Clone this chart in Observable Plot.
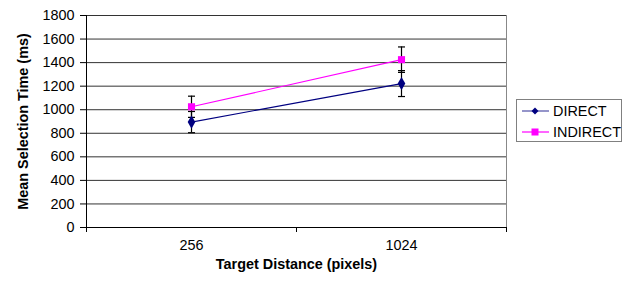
<!DOCTYPE html>
<html><head><meta charset="utf-8">
<script src="https://cdn.jsdelivr.net/npm/d3@7"></script>
<script src="https://cdn.jsdelivr.net/npm/@observablehq/plot@0.6"></script>
<style>
body{margin:0;background:#fff;font-family:"Liberation Sans",Arial,sans-serif;}
#wrap{position:relative;width:626px;height:284px;}
#legend{position:absolute;left:516px;top:99px;width:104px;height:41px;border:1px solid #808080;background:#fff;font-size:14.4px;color:#000;}
.row{position:absolute;left:0;height:16px;display:flex;align-items:center;}
.row span{margin-left:4px;}
</style></head>
<body><div id="wrap"></div>
<script>
const categories = ["256", "1024"];
const seriesNames = ["DIRECT", "INDIRECT"];
const direct = [895, 1222];
const indirect = [1025, 1425];
const directErr = [90, 110];
const indirectErr = [90, 108];
const yTicks = [0, 200, 400, 600, 800, 1000, 1200, 1400, 1600, 1800];
const colors = ["#000080", "#ff00ff"];
const symbols = ["diamond", "square"];

const data = [];
categories.forEach((c, i) => {
  data.push({series: seriesNames[0], i, x: i + 0.5, y: direct[i], e: directErr[i]});
  data.push({series: seriesNames[1], i, x: i + 0.5, y: indirect[i], e: indirectErr[i]});
});
const capSymbol = {draw(ctx, size) { const w = 3.5; ctx.moveTo(-w, 0); ctx.lineTo(w, 0); }};

const W = 626, H = 284;
const FS = 14.4;
const chart = Plot.plot({
  width: W, height: H,
  marginLeft: 86, marginRight: 120, marginTop: 15, marginBottom: 57,
  style: {fontFamily: "'Liberation Sans', Arial, sans-serif", fontSize: FS + "px", color: "#000", background: "#fff"},
  x: {type: "linear", domain: [0, categories.length]},
  y: {domain: [0, 1800]},
  color: {domain: seriesNames, range: colors},
  symbol: {domain: seriesNames, range: symbols},
  marks: [
    Plot.ruleY(yTicks, {stroke: "#333", strokeWidth: 1}),
    Plot.ruleX([categories.length], {stroke: "#888"}),
    Plot.axisY({ticks: yTicks, tickSize: 6, tickPadding: 6, tickFormat: d => String(d), label: null, fontSize: FS}),
    Plot.axisX({ticks: d3.range(categories.length + 1), tickSize: 5, tickFormat: () => "", label: null}),
    Plot.axisX({ticks: categories.map((c, i) => i + 0.5), tickSize: 0, tickPadding: 12, tickFormat: v => categories[Math.round(v - 0.5)], label: null, fontSize: FS}),
    Plot.ruleX([0], {stroke: "#000"}),
    Plot.ruleY([0], {stroke: "#000"}),
    Plot.text(["Mean Selection Time (ms)"], {frameAnchor: "left", dx: -63, rotate: -90, fontWeight: "bold", fontSize: FS, textAnchor: "middle"}),
    Plot.text(["Target Distance (pixels)"], {frameAnchor: "bottom", dy: 41, fontWeight: "bold", fontSize: FS}),
    Plot.ruleX(data, {x: "x", y1: d => d.y - d.e, y2: d => d.y + d.e, stroke: "#000", strokeWidth: 1.2}),
    Plot.dot(data, {x: "x", y: d => d.y - d.e, symbol: () => capSymbol, stroke: "#000", strokeWidth: 1.2, fill: "none"}),
    Plot.dot(data, {x: "x", y: d => d.y + d.e, symbol: () => capSymbol, stroke: "#000", strokeWidth: 1.2, fill: "none"}),
    Plot.line(data, {x: "x", y: "y", z: "series", stroke: "series", strokeWidth: 1.2}),
    Plot.dot(data, {x: "x", y: "y", symbol: "series", fill: "series", stroke: "none", r: 4})
  ]
});
const wrap = document.getElementById("wrap");
wrap.appendChild(chart);

const legend = document.createElement("div");
legend.id = "legend";
seriesNames.forEach((s, k) => {
  const row = document.createElement("div");
  row.className = "row";
  row.style.left = "5px";
  row.style.top = (3 + k * 21) + "px";
  const sym = k === 0
    ? `<path d="M13,3.5 L16.5,7 L13,10.5 L9.5,7Z" fill="${colors[k]}"/>`
    : `<rect x="9.5" y="3.5" width="7" height="7" fill="${colors[k]}"/>`;
  row.innerHTML = `<svg width="27" height="14"><line x1="0" x2="27" y1="7" y2="7" stroke="${colors[k]}" stroke-width="1.2" stroke-opacity="${k === 0 ? 0.7 : 1}"/>${sym}</svg><span>${s}</span>`;
  legend.appendChild(row);
});
wrap.appendChild(legend);
</script></body></html>
